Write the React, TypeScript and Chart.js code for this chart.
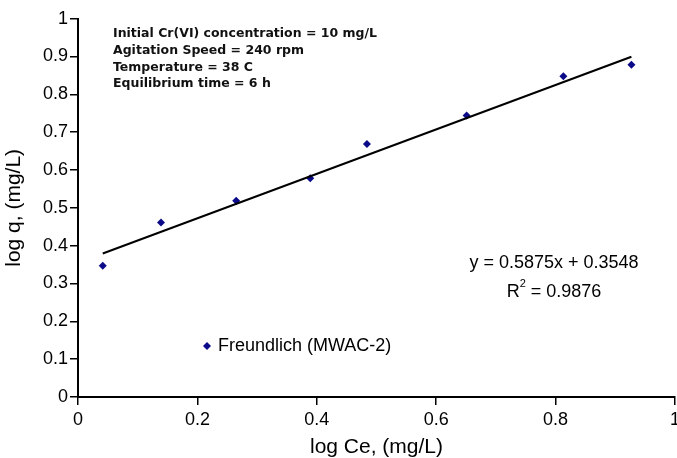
import React, { useEffect, useRef } from "react";
import { Chart, registerables } from "chart.js";

Chart.register(...registerables);

const logCe = [0.0415, 0.139, 0.265, 0.389, 0.484, 0.651, 0.813, 0.927];
const logQ = [0.347, 0.461, 0.519, 0.578, 0.669, 0.744, 0.848, 0.878];
const slope = 0.5875;
const intercept = 0.3548;
const rSquared = "0.9876";
const xTicks = [0, 0.2, 0.4, 0.6, 0.8, 1];
const yTicks = [0, 0.1, 0.2, 0.3, 0.4, 0.5, 0.6, 0.7, 0.8, 0.9, 1];
const conditions = [
  "Initial Cr(VI) concentration = 10 mg/L",
  "Agitation Speed = 240 rpm",
  "Temperature = 38 C",
  "Equilibrium time = 6 h",
];
const seriesName = "Freundlich (MWAC-2)";
const xTitle = "log Ce, (mg/L)";
const yTitle = "log q, (mg/L)";

const MARKER = "#0b0b8a";
const SANS = "'Liberation Sans', Arial, sans-serif";

export default function App() {
  const ref = useRef<HTMLCanvasElement | null>(null);

  useEffect(() => {
    document.body.style.margin = "0";
    const canvas = ref.current;
    if (!canvas) return;
    const xMin = Math.min(...logCe);
    const xMax = Math.max(...logCe);
    const fit = [
      { x: xMin, y: slope * xMin + intercept },
      { x: xMax, y: slope * xMax + intercept },
    ];

    const annotations = {
      id: "annotations",
      afterDraw(chart: any) {
        const ctx = chart.ctx as CanvasRenderingContext2D;
        ctx.save();
        ctx.fillStyle = "#111";
        ctx.textBaseline = "middle";
        ctx.textAlign = "left";
        ctx.font = "bold 12.5px 'DejaVu Sans', Verdana, sans-serif";
        conditions.forEach((t, i) => {
          ctx.fillText(t, 113, 34 + i * 16.7);
        });

        // equation
        ctx.font = `18px ${SANS}`;
        ctx.textAlign = "center";
        ctx.fillStyle = "#000";
        ctx.fillText(`y = ${slope}x + ${intercept}`, 554, 263);
        const a = "R";
        const b = ` = ${rSquared}`;
        const wa = ctx.measureText(a).width;
        const wb = ctx.measureText(b).width;
        ctx.font = `11px ${SANS}`;
        const ws = ctx.measureText("2").width;
        const total = wa + ws + wb;
        const x0 = 554 - total / 2;
        ctx.textAlign = "left";
        ctx.font = `18px ${SANS}`;
        ctx.fillText(a, x0, 292);
        ctx.font = `11px ${SANS}`;
        ctx.fillText("2", x0 + wa, 284);
        ctx.font = `18px ${SANS}`;
        ctx.fillText(b, x0 + wa + ws, 292);

        // legend
        const lx = 207;
        const ly = 346;
        ctx.fillStyle = MARKER;
        ctx.beginPath();
        ctx.moveTo(lx, ly - 4);
        ctx.lineTo(lx + 4, ly);
        ctx.lineTo(lx, ly + 4);
        ctx.lineTo(lx - 4, ly);
        ctx.closePath();
        ctx.fill();
        ctx.fillStyle = "#000";
        ctx.font = `18px ${SANS}`;
        ctx.fillText(seriesName, 218, ly);
        ctx.restore();
      },
    };

    const chart = new Chart(canvas, {
      type: "scatter",
      data: {
        datasets: [
          {
            type: "line",
            label: "fit",
            data: fit,
            borderColor: "#000",
            borderWidth: 2,
            pointRadius: 0,
            fill: false,
          } as any,
          {
            label: seriesName,
            data: logCe.map((x, i) => ({ x, y: logQ[i] })),
            pointStyle: "rectRot",
            pointRadius: 4,
            backgroundColor: MARKER,
            borderColor: MARKER,
            borderWidth: 0,
          },
        ],
      },
      options: {
        responsive: false,
        animation: false,
        layout: { autoPadding: false, padding: { top: 18.7, right: 2, left: 0, bottom: 0 } } as any,
        plugins: {
          legend: { display: false },
          tooltip: { enabled: false },
        },
        scales: {
          x: {
            type: "linear",
            min: 0,
            max: 1,
            afterBuildTicks: (s: any) => {
              s.ticks = xTicks.map((v) => ({ value: v }));
            },
            afterFit: (s: any) => {
              s.height = 61;
              s.paddingLeft = 0;
              s.paddingRight = 0;
            },
            border: { display: true, color: "#000", width: 2 },
            grid: {
              display: true,
              drawOnChartArea: false,
              drawTicks: true,
              tickLength: 8,
              color: "#000",
              lineWidth: 1.5,
            },
            ticks: {
              color: "#000",
              font: { family: SANS, size: 18 },
              padding: 4,
              maxRotation: 0,
              callback: (v: any) => String(v),
            },
            title: {
              display: true,
              text: xTitle,
              color: "#000",
              font: { family: SANS, size: 21, lineHeight: 1 },
              padding: { top: 0, bottom: 0 },
            },
          },
          y: {
            type: "linear",
            min: 0,
            max: 1,
            afterBuildTicks: (s: any) => {
              s.ticks = yTicks.map((v) => ({ value: v }));
            },
            afterFit: (s: any) => {
              s.width = 78;
              s.paddingTop = 0;
              s.paddingBottom = 0;
            },
            border: { display: true, color: "#000", width: 2 },
            grid: {
              display: true,
              drawOnChartArea: false,
              drawTicks: true,
              tickLength: 8,
              color: "#000",
              lineWidth: 1.5,
            },
            ticks: {
              color: "#000",
              font: { family: SANS, size: 18 },
              padding: 2,
              callback: (v: any) => String(v),
            },
            title: {
              display: true,
              text: yTitle,
              color: "#000",
              font: { family: SANS, size: 21, lineHeight: 1 },
              padding: { top: 3.5, bottom: 0 },
            },
          },
        },
      },
      plugins: [annotations],
    });
    return () => chart.destroy();
  }, []);

  return (
    <div style={{ position: "absolute", left: 0, top: 0, width: 677, height: 458, background: "#fff" }}>
      <canvas ref={ref} width={677} height={458} />
    </div>
  );
}
